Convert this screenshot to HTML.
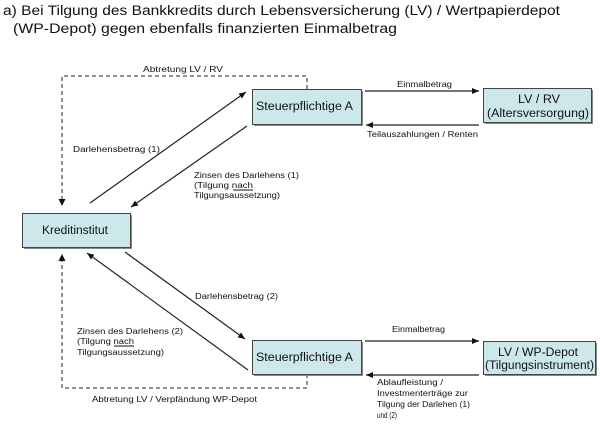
<!DOCTYPE html>
<html><head><meta charset="utf-8"><style>
html,body{margin:0;padding:0;background:#fff;}
svg{display:block;}
text{font-family:"Liberation Sans",Arial,sans-serif;fill:#111;}
.s{font-size:8px;}
.b{font-size:11.5px;}
</style></head><body>
<svg width="600" height="426" viewBox="0 0 600 426" xmlns="http://www.w3.org/2000/svg">
<defs>
<marker id="a" markerWidth="8" markerHeight="8" refX="7" refY="3" orient="auto" markerUnits="userSpaceOnUse"><path d="M0,0 L7,3 L0,6 z" fill="#111"/></marker>
</defs>
<!-- title -->
<text x="3" y="15" font-size="13.5" textLength="557" lengthAdjust="spacingAndGlyphs">a) Bei Tilgung des Bankkredits durch Lebensversicherung (LV) / Wertpapierdepot</text>
<text x="13" y="33" font-size="13.5" textLength="384" lengthAdjust="spacingAndGlyphs">(WP-Depot) gegen ebenfalls finanzierten Einmalbetrag</text>

<!-- dashed lines -->
<g stroke="#222" stroke-width="1" fill="none" stroke-dasharray="4,3">
<path d="M307,89 V76 H62 V199"/>
<path d="M307,374 V388 H62 V261"/>
</g>
<path d="M58.5,199 L65.5,199 L62,206 z" fill="#111"/>
<path d="M58.5,261 L65.5,261 L62,254 z" fill="#111"/>

<!-- diagonal arrows -->
<g stroke="#222" stroke-width="1.2" fill="none">
<line x1="90" y1="203" x2="246" y2="92" marker-end="url(#a)"/>
<line x1="247" y1="126" x2="131" y2="207" marker-end="url(#a)"/>
<line x1="125" y1="252" x2="245" y2="339" marker-end="url(#a)"/>
<line x1="248" y1="370" x2="87" y2="253" marker-end="url(#a)"/>
<!-- horizontal -->
<line x1="365" y1="91" x2="479" y2="91" marker-end="url(#a)"/>
<line x1="479" y1="125" x2="366" y2="125" marker-end="url(#a)"/>
<line x1="365" y1="341" x2="479" y2="341" marker-end="url(#a)"/>
<line x1="479" y1="375" x2="366" y2="375" marker-end="url(#a)"/>
</g>

<!-- boxes -->
<g fill="#888">
<rect x="254" y="91" width="109" height="35"/>
<rect x="485" y="90" width="108" height="34"/>
<rect x="24" y="215" width="108" height="34"/>
<rect x="254" y="342" width="109" height="34"/>
<rect x="485" y="343" width="112" height="33"/>
</g>
<g fill="#cde8ea" stroke="#444" stroke-width="1">
<rect x="252.5" y="89.5" width="109" height="35"/>
<rect x="483.5" y="88.5" width="108" height="34"/>
<rect x="22.5" y="213.5" width="108" height="34"/>
<rect x="252.5" y="340.5" width="109" height="34"/>
<rect x="483.5" y="341.5" width="112" height="33"/>
</g>
<text class="b" x="256" y="110" textLength="97" lengthAdjust="spacingAndGlyphs">Steuerpflichtige A</text>
<text class="b" x="518" y="103" textLength="42" lengthAdjust="spacingAndGlyphs">LV / RV</text>
<text class="b" x="487" y="117" textLength="102" lengthAdjust="spacingAndGlyphs">(Altersversorgung)</text>
<text class="b" x="42" y="234" textLength="66" lengthAdjust="spacingAndGlyphs">Kreditinstitut</text>
<text class="b" x="256" y="361" textLength="97" lengthAdjust="spacingAndGlyphs">Steuerpflichtige A</text>
<text class="b" x="498" y="356" textLength="80" lengthAdjust="spacingAndGlyphs">LV / WP-Depot</text>
<text class="b" x="485" y="369" textLength="109" lengthAdjust="spacingAndGlyphs">(Tilgungsinstrument)</text>

<!-- small labels -->
<text class="s" x="143" y="72" textLength="80" lengthAdjust="spacingAndGlyphs">Abtretung LV / RV</text>
<text class="s" x="397" y="87" textLength="55" lengthAdjust="spacingAndGlyphs">Einmalbetrag</text>
<text class="s" x="367" y="137" textLength="111" lengthAdjust="spacingAndGlyphs">Teilauszahlungen / Renten</text>
<text class="s" x="73" y="152" textLength="87" lengthAdjust="spacingAndGlyphs">Darlehensbetrag (1)</text>
<text class="s" x="194" y="178" textLength="105" lengthAdjust="spacingAndGlyphs">Zinsen des Darlehens (1)</text>
<text class="s" x="194" y="188" textLength="59" lengthAdjust="spacingAndGlyphs">(Tilgung nach</text>
<line x1="233" y1="190" x2="253" y2="190" stroke="#111" stroke-width="0.9"/>
<text class="s" x="194" y="198" textLength="86" lengthAdjust="spacingAndGlyphs">Tilgungsaussetzung)</text>

<text class="s" x="195" y="299" textLength="83" lengthAdjust="spacingAndGlyphs">Darlehensbetrag (2)</text>
<text class="s" x="77" y="334" textLength="106" lengthAdjust="spacingAndGlyphs">Zinsen des Darlehens (2)</text>
<text class="s" x="77" y="344" textLength="57" lengthAdjust="spacingAndGlyphs">(Tilgung nach</text>
<line x1="114" y1="346" x2="134" y2="346" stroke="#111" stroke-width="0.9"/>
<text class="s" x="77" y="355" textLength="87" lengthAdjust="spacingAndGlyphs">Tilgungsaussetzung)</text>
<text class="s" x="92" y="402" textLength="165" lengthAdjust="spacingAndGlyphs">Abtretung LV / Verpfändung WP-Depot</text>

<text class="s" x="392" y="332" textLength="53" lengthAdjust="spacingAndGlyphs">Einmalbetrag</text>
<text class="s" x="377" y="385" textLength="66" lengthAdjust="spacingAndGlyphs">Ablaufleistung /</text>
<text class="s" x="377" y="396" textLength="91" lengthAdjust="spacingAndGlyphs">Investmenterträge zur</text>
<text class="s" x="377" y="407" textLength="93" lengthAdjust="spacingAndGlyphs">Tilgung der Darlehen (1)</text>
<text class="s" x="377" y="418" textLength="20" lengthAdjust="spacingAndGlyphs">und (2)</text>
</svg>
</body></html>
